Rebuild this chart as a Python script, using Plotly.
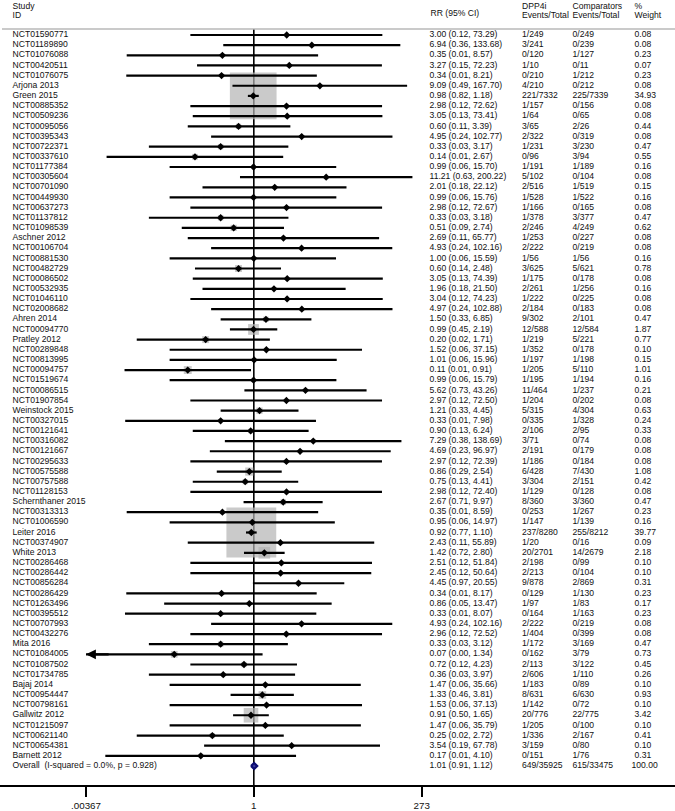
import math
import plotly.graph_objects as go

# ---------------- data ----------------
studies = [
    "NCT01590771", "NCT01189890", "NCT01076088", "NCT00420511", "NCT01076075",
    "Arjona 2013", "Green 2015", "NCT00885352", "NCT00509236", "NCT00095056",
    "NCT00395343", "NCT00722371", "NCT00337610", "NCT01177384", "NCT00305604",
    "NCT00701090", "NCT00449930", "NCT00637273", "NCT01137812", "NCT01098539",
    "Aschner 2012", "NCT00106704", "NCT00881530", "NCT00482729", "NCT00086502",
    "NCT00532935", "NCT01046110", "NCT02008682", "Ahren 2014", "NCT00094770",
    "Pratley 2012", "NCT00289848", "NCT00813995", "NCT00094757", "NCT01519674",
    "NCT00086515", "NCT01907854", "Weinstock 2015", "NCT00327015", "NCT00121641",
    "NCT00316082", "NCT00121667", "NCT00295633", "NCT00575588", "NCT00757588",
    "NCT01128153", "Schernthaner 2015", "NCT00313313", "NCT01006590", "Leiter 2016",
    "NCT00374907", "White 2013", "NCT00286468", "NCT00286442", "NCT00856284",
    "NCT00286429", "NCT01263496", "NCT00395512", "NCT00707993", "NCT00432276",
    "Mita 2016", "NCT01084005", "NCT01087502", "NCT01734785", "Bajaj 2014",
    "NCT00954447", "NCT00798161", "Gallwitz 2012", "NCT01215097", "NCT00621140",
    "NCT00654381", "Barnett 2012",
]
rr = [
    3.00, 6.94, 0.35, 3.27, 0.34, 9.09, 0.98, 2.98, 3.05, 0.60,
    4.95, 0.33, 0.14, 0.99, 11.21, 2.01, 0.99, 2.98, 0.33, 0.51,
    2.69, 4.93, 1.00, 0.60, 3.05, 1.96, 3.04, 4.97, 1.50, 0.99,
    0.20, 1.52, 1.01, 0.11, 0.99, 5.62, 2.97, 1.21, 0.33, 0.90,
    7.29, 4.69, 2.97, 0.86, 0.75, 2.98, 2.67, 0.35, 0.95, 0.92,
    2.43, 1.42, 2.51, 2.45, 4.45, 0.34, 0.86, 0.33, 4.93, 2.96,
    0.33, 0.07, 0.72, 0.36, 1.47, 1.33, 1.53, 0.91, 1.47, 0.25,
    3.54, 0.17,
]
lo = [
    0.12, 0.36, 0.0143, 0.15, 0.0141, 0.49, 0.82, 0.12, 0.13, 0.11,
    0.24, 0.03, 0.0073, 0.06, 0.63, 0.18, 0.06, 0.12, 0.03, 0.09,
    0.11, 0.24, 0.06, 0.14, 0.13, 0.18, 0.12, 0.24, 0.33, 0.45,
    0.02, 0.06, 0.06, 0.0133, 0.06, 0.73, 0.12, 0.33, 0.0136, 0.13,
    0.38, 0.23, 0.12, 0.29, 0.13, 0.12, 0.71, 0.0143, 0.06, 0.77,
    0.11, 0.72, 0.12, 0.12, 0.97, 0.0141, 0.05, 0.0135, 0.24, 0.12,
    0.03, 0.0036, 0.12, 0.03, 0.06, 0.46, 0.06, 0.50, 0.06, 0.02,
    0.19, 0.0070,
]
hi = [
    73.29, 133.68, 8.57, 72.23, 8.21, 167.70, 1.18, 72.62, 73.41, 3.39,
    102.77, 3.17, 2.67, 15.70, 200.22, 22.12, 15.76, 72.67, 3.18, 2.74,
    65.77, 102.16, 15.59, 2.48, 74.39, 21.50, 74.23, 102.88, 6.85, 2.19,
    1.71, 37.15, 15.96, 0.91, 15.79, 43.26, 72.50, 4.45, 7.98, 6.24,
    138.69, 96.97, 72.39, 2.54, 4.41, 72.40, 9.97, 8.59, 14.97, 1.10,
    55.89, 2.80, 51.84, 50.64, 20.55, 8.17, 13.47, 8.07, 102.16, 72.52,
    3.12, 1.34, 4.23, 3.97, 35.66, 3.81, 37.13, 1.65, 35.79, 2.72,
    67.78, 4.10,
]
dpp4i = [
    "1/249", "3/241", "0/120", "1/10", "0/210", "4/210", "221/7332", "1/157", "1/64", "3/65",
    "2/322", "1/231", "0/96", "1/191", "5/102", "2/516", "1/528", "1/166", "1/378", "2/246",
    "1/253", "2/222", "1/56", "3/625", "1/175", "2/261", "1/222", "2/184", "9/302", "12/588",
    "1/219", "1/352", "1/197", "1/205", "1/195", "11/464", "1/204", "5/315", "0/335", "2/106",
    "3/71", "2/191", "1/186", "6/428", "3/304", "1/129", "8/360", "0/253", "1/147", "237/8280",
    "1/20", "20/2701", "2/198", "2/213", "9/878", "0/129", "1/97", "0/164", "2/222", "1/404",
    "1/172", "0/162", "2/113", "2/606", "1/183", "8/631", "1/142", "20/776", "1/205", "1/336",
    "3/159", "0/151",
]
comparators = [
    "0/249", "0/239", "1/127", "0/11", "1/212", "0/212", "225/7339", "0/156", "0/65", "2/26",
    "0/319", "3/230", "3/94", "1/189", "0/104", "1/519", "1/522", "0/165", "3/377", "4/249",
    "0/227", "0/219", "1/56", "5/621", "0/178", "1/256", "0/225", "0/183", "2/101", "12/584",
    "5/221", "0/178", "1/198", "5/110", "1/194", "1/237", "0/202", "4/304", "1/328", "2/95",
    "0/74", "0/179", "0/184", "7/430", "2/151", "0/128", "3/360", "1/267", "1/139", "255/8212",
    "0/16", "14/2679", "0/99", "0/104", "2/869", "1/130", "1/83", "1/163", "0/219", "0/399",
    "3/169", "3/79", "3/122", "1/110", "0/89", "6/630", "0/72", "22/775", "0/100", "2/167",
    "0/80", "1/76",
]
weights = [
    0.08, 0.08, 0.23, 0.07, 0.23, 0.08, 34.93, 0.08, 0.08, 0.44,
    0.08, 0.47, 0.55, 0.16, 0.08, 0.15, 0.16, 0.08, 0.47, 0.62,
    0.08, 0.08, 0.16, 0.78, 0.08, 0.16, 0.08, 0.08, 0.47, 1.87,
    0.77, 0.10, 0.15, 1.01, 0.16, 0.21, 0.08, 0.63, 0.24, 0.33,
    0.08, 0.08, 0.08, 1.08, 0.42, 0.08, 0.47, 0.23, 0.16, 39.77,
    0.09, 2.18, 0.10, 0.10, 0.31, 0.23, 0.17, 0.23, 0.08, 0.08,
    0.47, 0.73, 0.45, 0.26, 0.10, 0.93, 0.10, 3.42, 0.10, 0.41,
    0.10, 0.31,
]

overall_label = "Overall  (I-squared = 0.0%, p = 0.928)"
overall_rr, overall_lo, overall_hi = 1.01, 0.91, 1.12
overall_dpp4i = "649/35925"
overall_comp = "615/33475"
overall_weight = 100.00

tick_vals = [0.00367, 1, 273]
tick_text = [".00367", "1", "273"]

# ---------------- layout constants (window pixels) ----------------
W, H = 675, 811
ROW0, ROWH = 35.0, 10.153
AXIS_Y, HEADER_Y = 785, 29
TICK_PX = (86.0, 421.7)
BOX_K = 7.9
FONT = "Liberation Sans, Arial, sans-serif"
FS = 8.6
TXT = "#111111"

ppd = (TICK_PX[1] - TICK_PX[0]) / (math.log10(tick_vals[-1]) - math.log10(tick_vals[0]))
xr = [math.log10(tick_vals[0]) - TICK_PX[0] / ppd,
      math.log10(tick_vals[-1]) + (W - TICK_PX[1]) / ppd]
xmin = tick_vals[0]


def row_of(p):
    return (p - ROW0) / ROWH


n = len(studies)
rows = list(range(n))
orow = n

fig = go.Figure()

# header separator
fig.add_trace(go.Scatter(x=[2, W], y=[row_of(HEADER_Y)] * 2, mode="lines", xaxis="x2",
                         line=dict(color="#b8b8b8", width=1.6), hoverinfo="skip",
                         cliponaxis=False))

# null line (under boxes)
fig.add_trace(go.Scatter(x=[1, 1], y=[row_of(HEADER_Y), row_of(AXIS_Y)], mode="lines",
                         line=dict(color="black", width=1.6), hoverinfo="skip"))

# weight boxes
fig.add_trace(go.Scatter(x=rr, y=rows, mode="markers",
                         marker=dict(symbol="square", color="#b3b3b3",
                                     size=[BOX_K * math.sqrt(w) for w in weights],
                                     line=dict(width=0)),
                         hoverinfo="skip"))

# CI lines
cx, cy = [], []
for i in rows:
    cx += [max(lo[i], xmin), hi[i], None]
    cy += [i, i, None]
fig.add_trace(go.Scatter(x=cx, y=cy, mode="lines", line=dict(color="black", width=2.2),
                         hoverinfo="skip"))

# point estimates
fig.add_trace(go.Scatter(x=rr, y=rows, mode="markers",
                         marker=dict(symbol="diamond", color="black", size=5.6),
                         hoverinfo="skip"))

# overall diamond
dh = 0.3
fig.add_trace(go.Scatter(x=[overall_lo, overall_rr, overall_hi, overall_rr, overall_lo],
                         y=[orow, orow - dh, orow, orow + dh, orow],
                         mode="lines", fill="toself", fillcolor="#3a3aa0",
                         line=dict(color="#0b0b70", width=2.2), hoverinfo="skip"))

annotations = []
for i in rows:
    if lo[i] <= xmin:
        annotations.append(dict(x=math.log10(xmin), y=i, xref="x", yref="y",
                                ax=math.log10(xmin) + 0.35, ay=i, axref="x", ayref="y",
                                showarrow=True, arrowhead=2, arrowsize=0.9, arrowwidth=2.2,
                                arrowcolor="black", text=""))


# text columns
def text_col(x, ys, texts):
    fig.add_trace(go.Scatter(x=[x] * len(ys), y=ys, text=texts, mode="text",
                             textposition="middle right", xaxis="x2",
                             textfont=dict(family=FONT, size=FS, color=TXT),
                             hoverinfo="skip", cliponaxis=False))


all_rows = rows + [orow]
text_col(12.5, all_rows, studies + [overall_label])
text_col(429.5, all_rows, [f"{r:.2f} ({a:.2f}, {b:.2f})" for r, a, b in zip(rr, lo, hi)]
         + [f"{overall_rr:.2f} ({overall_lo:.2f}, {overall_hi:.2f})"])
text_col(522, all_rows, dpp4i + [overall_dpp4i])
text_col(572.5, all_rows, comparators + [overall_comp])
text_col(634.5, rows, [f"{w:.2f}" for w in weights])
text_col(631.5, [orow], [f"{overall_weight:.2f}"])

# headers
y1, y2 = row_of(6.8), row_of(15.6)
text_col(12.5, [y1, y2], ["Study", "ID"])
text_col(430.5, [row_of(14)], ["RR (95% CI)"])
text_col(522, [y1, y2], ["DPP4i", "Events/Total"])
text_col(572.5, [y1, y2], ["Comparators", "Events/Total"])
text_col(634.5, [y1, y2], ["%", "Weight"])

fig.update_layout(
    width=W, height=H,
    margin=dict(l=0, r=0, t=0, b=H - AXIS_Y, pad=0),
    paper_bgcolor="white", plot_bgcolor="white",
    showlegend=False,
    hovermode=False,
    xaxis=dict(type="log", range=xr, tickvals=tick_vals, ticktext=tick_text,
               ticks="outside", ticklen=10, tickwidth=1.5, tickcolor="black",
               showline=True, linecolor="black", linewidth=1.5, mirror=False,
               showgrid=False, zeroline=False, automargin=False,
               tickfont=dict(family=FONT, size=9.8, color=TXT)),
    xaxis2=dict(overlaying="x", range=[0, W], visible=False, anchor="y"),
    yaxis=dict(range=[row_of(AXIS_Y), row_of(0)], visible=False, showgrid=False,
               zeroline=False),
    annotations=annotations,
)

# remove the browser's default page margin so the figure fills the window exactly
fig.write_html("out.html", config={"displayModeBar": False},
               post_script="document.body.style.margin='0px';")
